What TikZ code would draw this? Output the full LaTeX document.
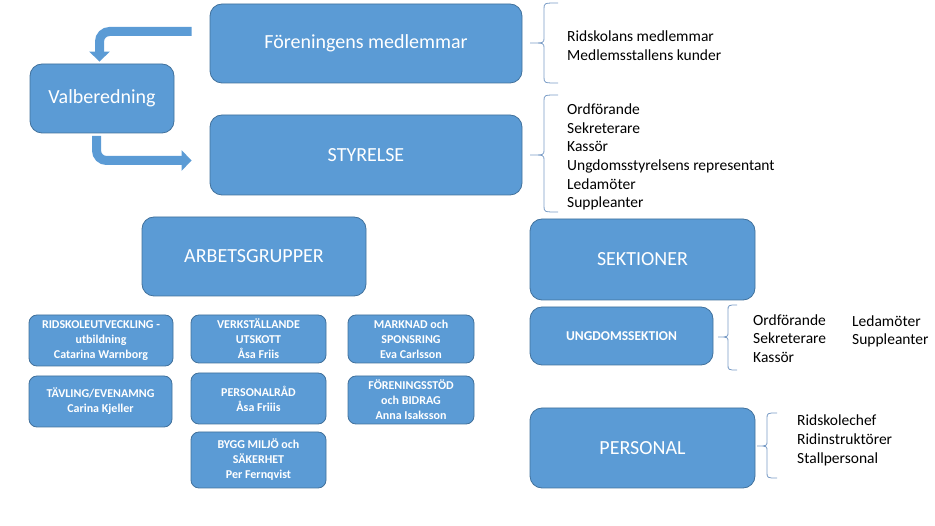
\documentclass[tikz,border=0pt]{standalone}
\usepackage{fontspec}
\setmainfont{Carlito}
\usetikzlibrary{arrows.meta}
\definecolor{boxfill}{HTML}{5B9BD5}
\definecolor{boxline}{HTML}{41719C}
\definecolor{bracec}{HTML}{7A9CC6}
\newcommand\myBrace[6]{% xe xv xt yt ym yb
  \draw[brc] (#1,#4) .. controls (#2,#4) .. (#2,#4+6) -- (#2,#5-5)
    .. controls (#2,#5) .. (#3,#5) .. controls (#2,#5) .. (#2,#5+5)
    -- (#2,#6-6) .. controls (#2,#6) .. (#1,#6);}
\begin{document}
\begin{tikzpicture}[x=1pt,y=-1pt,
 box/.style={draw=boxline, line width=0.8pt, fill=boxfill, rounded corners=12pt, text=white, align=center, inner sep=0pt},
 big/.style={box, font=\fontsize{20}{24}\selectfont},
 small/.style={box, rounded corners=8pt, font=\bfseries\fontsize{12}{15}\selectfont},
 lst/.style={anchor=west, align=left, inner sep=0pt, font=\fontsize{15.5}{18.7}\selectfont},
 barrow/.style={draw=boxfill, line width=9pt, rounded corners=10pt, -{Triangle[width=20pt,length=10pt]}},
 brc/.style={draw=bracec, line width=0.8pt}]
\useasboundingbox (0,0) rectangle (935,526);
% main boxes
\node[big, minimum width=312, minimum height=79] (fm) at (366,43.5) {Föreningens medlemmar};
\node[big, minimum width=312, minimum height=80] (sty) at (366,155) {STYRELSE};
\node[big, minimum width=144, minimum height=69] (val) at (102,98.5) {Valberedning};
\node[big, minimum width=224, minimum height=79] (arb) at (254,256.5) {ARBETSGRUPPER};
\node[big, minimum width=225, minimum height=81] (sek) at (642.5,259.5) {SEKTIONER};
\node[box, font=\bfseries\fontsize{13.5}{17}\selectfont, minimum width=183, minimum height=58] (ung) at (621.5,336) {UNGDOMSSEKTION};
\node[big, minimum width=225, minimum height=80] (per) at (642.5,448) {PERSONAL};
% small boxes
\node[small, minimum width=144, minimum height=51] (rid) at (101,340.5) {RIDSKOLEUTVECKLING -\\utbildning\\Catarina Warnborg};
\node[small, minimum width=143, minimum height=51] (tav) at (100.5,401.5) {TÄVLING/EVENAMNG\\Carina Kjeller};
\node[small, minimum width=135, minimum height=48] (ver) at (258.5,339) {VERKSTÄLLANDE\\UTSKOTT\\Åsa Friis};
\node[small, minimum width=135, minimum height=51] (pr) at (258.5,398.5) {PERSONALRÅD\\Åsa Friiis};
\node[small, minimum width=135, minimum height=56] (byg) at (258.5,460) {BYGG MILJÖ och\\SÄKERHET\\Per Fernqvist};
\node[small, minimum width=126, minimum height=48] (mar) at (411,339) {MARKNAD och\\SPONSRING\\Eva Carlsson};
\node[small, minimum width=126, minimum height=48] (fs) at (411,400) {FÖRENINGSSTÖD\\och BIDRAG\\Anna Isaksson};
% lists
\node[lst] (l1) at (567,45.5) {Ridskolans medlemmar\\Medlemsstallens kunder};
\node[lst] (l2) at (567,157) {Ordförande\\Sekreterare\\Kassör\\Ungdomsstyrelsens representant\\Ledamöter\\Suppleanter};
\node[lst] (l3) at (753,338.5) {Ordförande\\Sekreterare\\Kassör};
\node[lst] (l4) at (852,331.5) {Ledamöter\\Suppleanter};
\node[lst] (l5) at (797,440.5) {Ridskolechef\\Ridinstruktörer\\Stallpersonal};
% braces
\myBrace{558}{544}{530}{3}{43}{83}
\myBrace{558}{544}{530}{95}{155}{212}
\myBrace{737}{728}{718}{305}{337}{370}
\myBrace{777}{767}{757}{413}{446}{478}
% block arrows
\coordinate (a1s) at ([xshift=-18pt,yshift=12pt]fm.west);
\coordinate (a1c) at (99.5,31.5);
\coordinate (a1e) at ([yshift=2pt]a1c |- val.north);
\draw[barrow] (a1s) -- (a1c) -- (a1e);
\coordinate (a2s) at ([yshift=-3pt]96.5,133);
\coordinate (a2c) at (96.5,160.5);
\coordinate (a2e) at ([xshift=-18pt]sty.west |- a2c);
\draw[barrow] (a2s) -- (a2c) -- (a2e);
\end{tikzpicture}
\end{document}
